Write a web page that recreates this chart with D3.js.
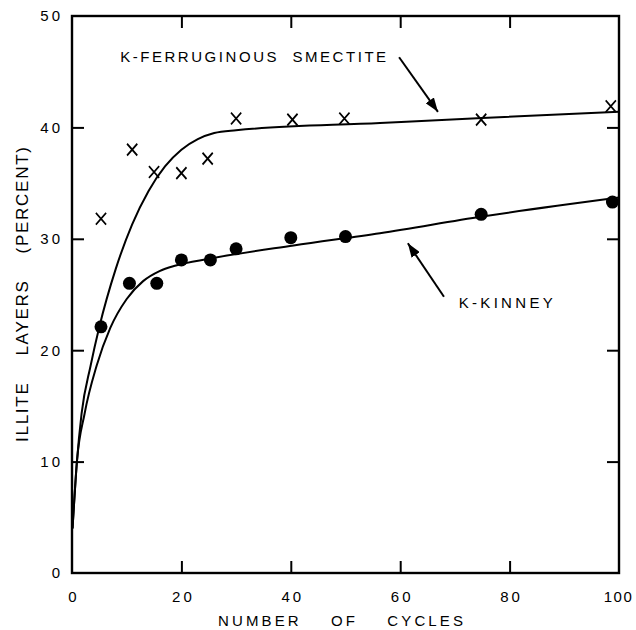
<!DOCTYPE html>
<html lang="en">
<head>
  <meta charset="UTF-8">
  <script src="https://cdnjs.cloudflare.com/ajax/libs/d3/7.8.5/d3.min.js"></script>
  <style>
    body { margin: 0; background: #fff; }
    text { font-family: "Liberation Sans", Arial, sans-serif; fill: #000; }
  </style>
  <title>Illite layers vs number of cycles</title>
</head>
<body>
  <script>
    const w = 636;
    const h = 630;
    const margin = { top: 16, right: 17, bottom: 57, left: 72 };

    // measured points (x = number of cycles, y = illite layers %)
    const smectiteCycles = [5.3, 11, 15, 20, 24.8, 30, 40.3, 49.8, 74.8, 98.5];
    const smectiteValues = [31.8, 38, 36, 35.9, 37.2, 40.8, 40.7, 40.8, 40.7, 41.9];
    const kinneyCycles = [5.3, 10.5, 15.5, 20, 25.3, 30, 40, 50, 74.8, 98.8];
    const kinneyValues = [22.1, 26, 26, 28.1, 28.1, 29.1, 30.1, 30.2, 32.2, 33.3];

    // fitted curves
    const smectiteFitX = [0.1, 0.9, 1.75, 3.4, 5, 8, 11, 14, 17, 20, 23, 26, 30, 56.3, 75, 100];
    const smectiteFitY = [4, 10, 14.3, 18.6, 22.1, 27.3, 31.3, 34.3, 36.5, 38.0, 38.95, 39.5, 39.75, 40.4, 40.85, 41.4];
    const kinneyFitX = [0.1, 0.9, 2.3, 4.5, 7, 10, 13, 16, 19, 25, 40.5, 56.3, 75, 100];
    const kinneyFitY = [4, 10, 14.3, 18.6, 22, 24.6, 26.2, 27.1, 27.6, 28.2, 29.4, 30.5, 32.0, 33.7];

    const xTicks = [0, 20, 40, 60, 80, 100];
    const yTicks = [0, 10, 20, 30, 40, 50];

    const svg = d3.select("body")
      .append("svg")
      .attr("width", w)
      .attr("height", h);

    const xScale = d3.scaleLinear()
      .domain([0, 100])
      .range([margin.left, w - margin.right]);

    const yScale = d3.scaleLinear()
      .domain([0, 50])
      .range([h - margin.bottom, margin.top]);

    const defs = svg.append("defs");
    defs.append("marker")
      .attr("id", "head")
      .attr("viewBox", "0 0 14 10")
      .attr("refX", 14)
      .attr("refY", 5)
      .attr("markerWidth", 14)
      .attr("markerHeight", 10)
      .attr("markerUnits", "userSpaceOnUse")
      .attr("orient", "auto")
      .append("path")
      .attr("d", "M0,0 L14,5 L0,10 Z")
      .attr("fill", "#000");

    // inner ticks on all four sides
    const tickLen = 12;
    const xAxisB = d3.axisBottom(xScale).tickValues(xTicks).tickSize(-tickLen).tickPadding(18)
      .tickFormat(d3.format("d"));
    const xAxisT = d3.axisTop(xScale).tickValues(xTicks.slice(1, -1)).tickSize(-tickLen).tickFormat("");
    const yAxisL = d3.axisLeft(yScale).tickValues(yTicks).tickSize(-tickLen).tickPadding(12)
      .tickFormat(d3.format("d"));
    const yAxisR = d3.axisRight(yScale).tickValues(yTicks.slice(1, -1)).tickSize(-tickLen).tickFormat("");

    const gx = svg.append("g")
      .attr("transform", "translate(0," + yScale(0) + ")")
      .call(xAxisB);
    svg.append("g")
      .attr("transform", "translate(0," + yScale(50) + ")")
      .call(xAxisT);
    const gy = svg.append("g")
      .attr("transform", "translate(" + xScale(0) + ",0)")
      .call(yAxisL);
    svg.append("g")
      .attr("transform", "translate(" + xScale(100) + ",0)")
      .call(yAxisR);

    svg.selectAll(".domain").remove();
    svg.selectAll(".tick line").attr("stroke", "#000").attr("stroke-width", 2);
    // hide the tick marks sitting on corners
    gx.selectAll(".tick").filter(d => d === 0 || d === 100).select("line").remove();
    gy.selectAll(".tick").filter(d => d === 0 || d === 50).select("line").remove();

    svg.selectAll(".tick text")
      .style("font-family", "'Liberation Sans', Arial, sans-serif")
      .style("font-size", "15px")
      .style("letter-spacing", "3px")
      .attr("fill", "#000");
    gy.selectAll(".tick text").attr("dx", "3px");
    gx.selectAll(".tick text").attr("dx", "1.5px");
    gx.selectAll(".tick").filter(d => d === 100).select("text")
      .style("letter-spacing", "1.5px")
      .attr("dx", "-1px");

    // frame
    svg.append("rect")
      .attr("x", xScale(0))
      .attr("y", yScale(50))
      .attr("width", xScale(100) - xScale(0))
      .attr("height", yScale(0) - yScale(50))
      .attr("fill", "none")
      .attr("stroke", "#000")
      .attr("stroke-width", 2.4);

    // fitted curves
    const line = d3.line()
      .x(d => xScale(d[0]))
      .y(d => yScale(d[1]))
      .curve(d3.curveMonotoneX);

    svg.append("path")
      .datum(d3.zip(smectiteFitX, smectiteFitY))
      .attr("d", line)
      .attr("fill", "none")
      .attr("stroke", "#000")
      .attr("stroke-width", 2);

    svg.append("path")
      .datum(d3.zip(kinneyFitX, kinneyFitY))
      .attr("d", line)
      .attr("fill", "none")
      .attr("stroke", "#000")
      .attr("stroke-width", 2);

    // K-Kinney points (filled dots)
    svg.selectAll("circle.kinney")
      .data(d3.zip(kinneyCycles, kinneyValues))
      .enter()
      .append("circle")
      .attr("class", "kinney")
      .attr("cx", d => xScale(d[0]))
      .attr("cy", d => yScale(d[1]))
      .attr("r", 6.5)
      .attr("fill", "#000");

    // K-ferruginous smectite points (crosses)
    const cross = d3.symbol().type(d3.symbolTimes).size(70);
    svg.selectAll("path.smectite")
      .data(d3.zip(smectiteCycles, smectiteValues))
      .enter()
      .append("path")
      .attr("class", "smectite")
      .attr("transform", d => "translate(" + xScale(d[0]) + "," + yScale(d[1]) + ") scale(1,1.15)")
      .attr("d", cross)
      .attr("fill", "none")
      .attr("stroke", "#000")
      .attr("stroke-width", 1.7);

    // annotations
    svg.append("text")
      .attr("x", xScale(8.8))
      .attr("y", yScale(45.9))
      .attr("textLength", 266)
      .attr("lengthAdjust", "spacing")
      .style("font-size", "15px")
      .attr("xml:space", "preserve")
      .text("K-FERRUGINOUS  SMECTITE");

    svg.append("text")
      .attr("x", xScale(70.7))
      .attr("y", yScale(23.8))
      .attr("textLength", 94)
      .attr("lengthAdjust", "spacing")
      .style("font-size", "15px")
      .text("K-KINNEY");

    svg.append("line")
      .attr("x1", xScale(59.8)).attr("y1", yScale(46.3))
      .attr("x2", xScale(66.9)).attr("y2", yScale(41.4))
      .attr("stroke", "#000").attr("stroke-width", 2)
      .attr("marker-end", "url(#head)");

    svg.append("line")
      .attr("x1", xScale(68)).attr("y1", yScale(24.8))
      .attr("x2", xScale(61.4)).attr("y2", yScale(29.6))
      .attr("stroke", "#000").attr("stroke-width", 2)
      .attr("marker-end", "url(#head)");

    // axis titles
    svg.append("text")
      .attr("x", 218)
      .attr("y", 626)
      .attr("textLength", 245)
      .attr("lengthAdjust", "spacing")
      .attr("xml:space", "preserve")
      .style("font-size", "15px")
      .text("NUMBER    OF    CYCLES");

    svg.append("text")
      .attr("transform", "translate(28,442) rotate(-90)")
      .attr("textLength", 295)
      .attr("lengthAdjust", "spacing")
      .attr("xml:space", "preserve")
      .style("font-size", "17px")
      .text("ILLITE    LAYERS    (PERCENT)");
  </script>
</body>
</html>
